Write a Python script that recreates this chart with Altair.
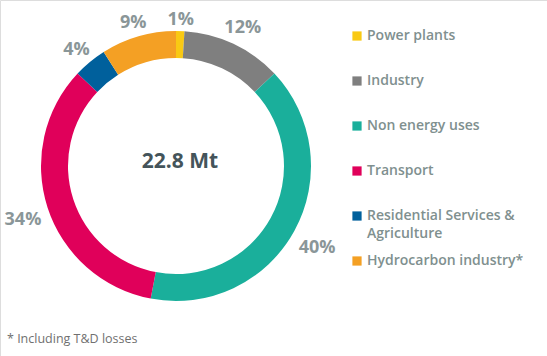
import altair as alt
import pandas as pd

categories = ["Power plants", "Industry", "Non energy uses", "Transport",
              "Residential Services & Agriculture", "Hydrocarbon industry*"]
legend_labels = ["Power plants", "Industry", "Non energy uses", "Transport",
                 "Residential Services &\nAgriculture", "Hydrocarbon industry*"]
shares = [1, 12, 40, 34, 4, 9]
colors = ["#F9C913", "#7F7F7F", "#1AAF9B", "#E0005A", "#00609C", "#F4A024"]
total_label = "22.8 Mt"
footnote = "* Including T&D losses"

df = pd.DataFrame({
    "category": categories,
    "label": legend_labels,
    "share": shares,
    "order": list(range(len(categories))),
    "pct": [f"{v}%" for v in shares],
})

CX, CY = 176, 166
R_OUT, R_IN = 135, 108
color_scale = alt.Scale(domain=categories, range=colors)

base = alt.Chart(df)

ring = base.mark_arc(innerRadius=R_IN, outerRadius=R_OUT, stroke=None).encode(
    theta=alt.Theta("share:Q", stack=True),
    order=alt.Order("order:Q"),
    color=alt.Color("category:N", scale=color_scale, legend=None),
    x=alt.value(CX), y=alt.value(CY),
)

# label placed "outside end": distance depends on the label box and the angle
pct = base.transform_window(
    cum="sum(share)", sort=[alt.SortField("order")], frame=[None, 0]
).transform_joinaggregate(
    tot="sum(share)"
).transform_calculate(
    ang="2*PI*(datum.cum - datum.share/2)/datum.tot",
    r=f"{R_OUT} + 6 + abs(sin(datum.ang))*(10*length(datum.pct)+6)/2 + abs(cos(datum.ang))*9",
).mark_text(font="Open Sans", fontSize=18, fontWeight="bold", dy=4,
            color="#8A9698", align="center", baseline="middle").encode(
    theta=alt.Theta("ang:Q", scale=None),
    radius=alt.Radius("r:Q", scale=None),
    text="pct:N",
    x=alt.value(CX), y=alt.value(CY),
)

center = alt.Chart(pd.DataFrame({"t": [total_label]})).mark_text(
    font="Open Sans", fontSize=21, fontWeight="bold", color="#44545A",
    align="center", baseline="middle").encode(
    text="t:N", x=alt.value(180), y=alt.value(162))

ypos = alt.Y("order:Q", scale=alt.Scale(domain=[0, 5], range=[36, 261]), axis=None)

leg_sq = base.mark_square(size=85, opacity=1).encode(
    x=alt.value(357), y=ypos,
    color=alt.Color("category:N", scale=color_scale, legend=None),
)

leg_txt = base.mark_text(font="Open Sans", fontSize=14, fontWeight=600,
                         color="#80908F", align="left", baseline="middle",
                         lineBreak="\n", lineHeight=18).encode(
    x=alt.value(367), y=ypos, text="label:N")

foot = alt.Chart(pd.DataFrame({"t": [footnote]})).mark_text(
    font="Open Sans", fontSize=12.5, color="#707070", align="left",
    baseline="middle").encode(text="t:N", x=alt.value(7), y=alt.value(339))

chart = alt.layer(ring, pct, center, leg_sq, leg_txt, foot).properties(
    width=547, height=356,
    autosize=alt.AutoSizeParams(type="none"),
    padding=0,
).configure_view(stroke=None).configure(background="white")

chart.save("out.html", embed_options={"renderer": "svg", "actions": False})
